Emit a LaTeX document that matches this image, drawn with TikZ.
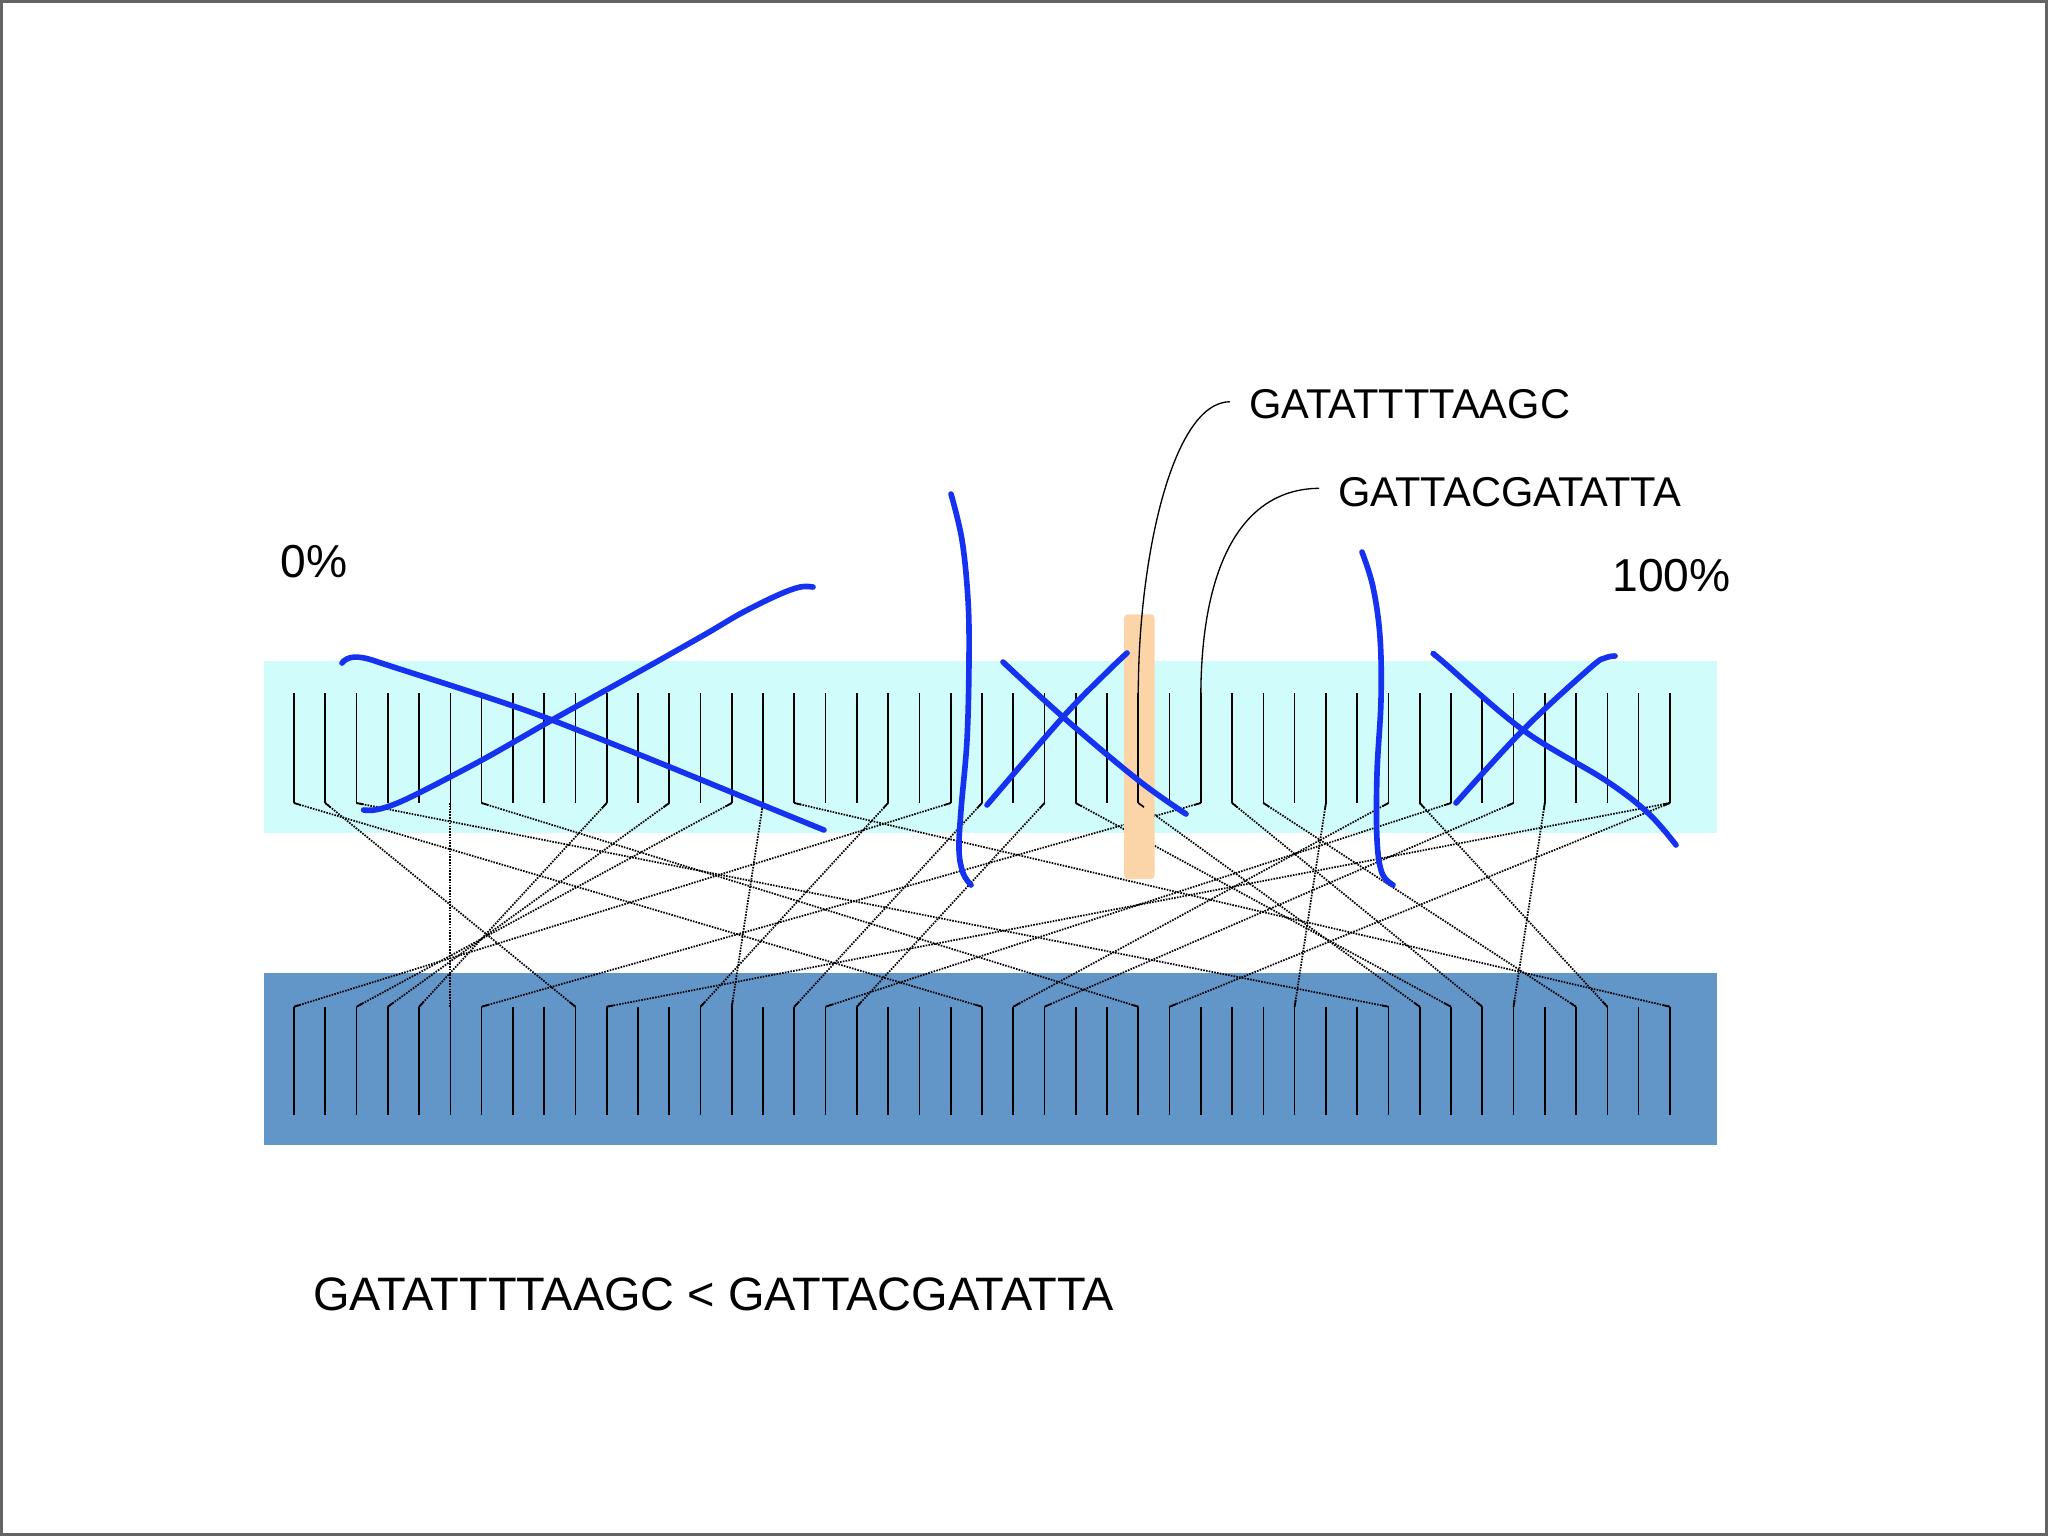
\documentclass[tikz,border=0pt]{standalone}
\usepackage{fontspec}
\setmainfont{Liberation Sans}
\usetikzlibrary{calc}
\definecolor{cyanband}{RGB}{208,252,252}
\definecolor{blueband}{RGB}{99,150,200}
\definecolor{penblue}{RGB}{20,50,240}
\definecolor{peach}{RGB}{251,212,168}
\definecolor{framegray}{RGB}{100,100,100}
\begin{document}
\begin{tikzpicture}[x=0.02cm,y=-0.02cm,
  tooth/.style={line width=0.95pt,black},
  dotline/.style={line width=1pt,black,dash pattern=on 0.9pt off 0.7pt},
  pen/.style={penblue,line width=3.2pt,line cap=round,line join=round},
  callout/.style={line width=0.75pt,black},
  lbl/.style={inner sep=0pt,anchor=base west,font=\fontsize{23.7pt}{28pt}\selectfont},
  bigl/.style={inner sep=0pt,anchor=base west,font=\fontsize{26.3pt}{31pt}\selectfont}]
\useasboundingbox (0,0) rectangle (2048,1536);
\fill[white] (0,0) rectangle (2048,1536);
\draw[framegray,line width=1.2pt] (1.5,1.5) rectangle (2046.5,1534.5);
% bands
\fill[cyanband] (263.5,661) rectangle (1717,832.7);
\fill[blueband] (263.5,973.3) rectangle (1717,1145);
% teeth coordinates
\foreach \i in {0,...,44} {
  \pgfmathsetmacro\xx{294+31.27*\i}
  \coordinate (tt\i) at (\xx,693.3);
  \coordinate (ta\i) at (\xx,803);
  \coordinate (ba\i) at (\xx,1006.7);
  \coordinate (bb\i) at (\xx,1115);
}
\def\links{0/22,1/9,2/35,5/5,6/27,10/4,12/3,14/2,15/14,16/44,19/13,21/0,22/16,24/18,25/37,27/36,29/6,30/38,31/41,33/32,35/23,36/42,37/17,39/24,40/39,44/10,44/28}
% dotted connectors
\foreach \i/\j in \links { \draw[dotline] (ta\i) -- (ba\j); }
% highlight bar
\fill[peach,rounded corners=0.08cm] (1124,614.3) rectangle (1154.7,879);
% teeth
\foreach \i in {0,...,44} {
  \draw[tooth] (tt\i) -- (ta\i);
  \draw[tooth] (ba\i) -- (bb\i);
}
% short solid bends
\foreach \i/\j in \links {
  \draw[tooth] (ta\i) -- ($(ta\i)!0.14cm!(ba\j)$);
  \draw[tooth] (ba\j) -- ($(ba\j)!0.14cm!(ta\i)$);
}
% labels
\node[lbl] (lab1) at (1249,418.3) {GATATTTTAAGC};
\node[lbl] (lab2) at (1338,506) {GATTACGATATTA};
\node[bigl] (p0) at (280,577) {0\%};
\node[bigl] (p100) at (1612,591.7) {100\%};
\node[bigl,font=\fontsize{26.7pt}{31pt}\selectfont] (cmp) at (313,1310.7) {GATATTTTAAGC < GATTACGATATTA};
% callouts
\coordinate (c1) at (1230,401.7);
\coordinate (c2) at (1319,488.3);
\draw[callout] (c1) .. controls (1172,402) and (1138.3,560) .. (tt27);
\draw[callout] (c2) .. controls (1242,489) and (1201.7,565) .. (tt29);
% pen strokes
\draw[pen] (342,663) .. controls (347,656) and (358,655.5) .. (372,660)
  .. controls (420,676) and (500,700) .. (552,720)
  .. controls (640,754) and (740,796) .. (824,830);
\draw[pen] plot[smooth,tension=0.55] coordinates {(363.6,810) (378.4,809.3) (408,798.3) (482,760) (552,720) (630,676.7) (704,635) (741,613.3) (778,595) (800,587) (813,587)};
\draw[pen] plot[smooth,tension=0.6] coordinates {(951,494) (962,540) (968,600) (969,660) (967,740) (961,810) (959,850) (963,873) (971,885)};
\draw[pen] plot[smooth,tension=0.6] coordinates {(1003,662) (1063,717) (1138,780) (1186,814)};
\draw[pen] plot[smooth,tension=0.6] coordinates {(987,805) (1063,717) (1106,673) (1127,653)};
\draw[pen] plot[smooth,tension=0.6] coordinates {(1362,552) (1373,587) (1380,637) (1381,700) (1377,773) (1377,840) (1382,873) (1393,885)};
\draw[pen] plot[smooth,tension=0.6] coordinates {(1436,656) (1441,660) (1523,730) (1605,780) (1648,813) (1676,845)};
\draw[pen] plot[smooth,tension=0.6] coordinates {(1456,803) (1523,730) (1590,668) (1605,658) (1615,656)};
\end{tikzpicture}
\end{document}
